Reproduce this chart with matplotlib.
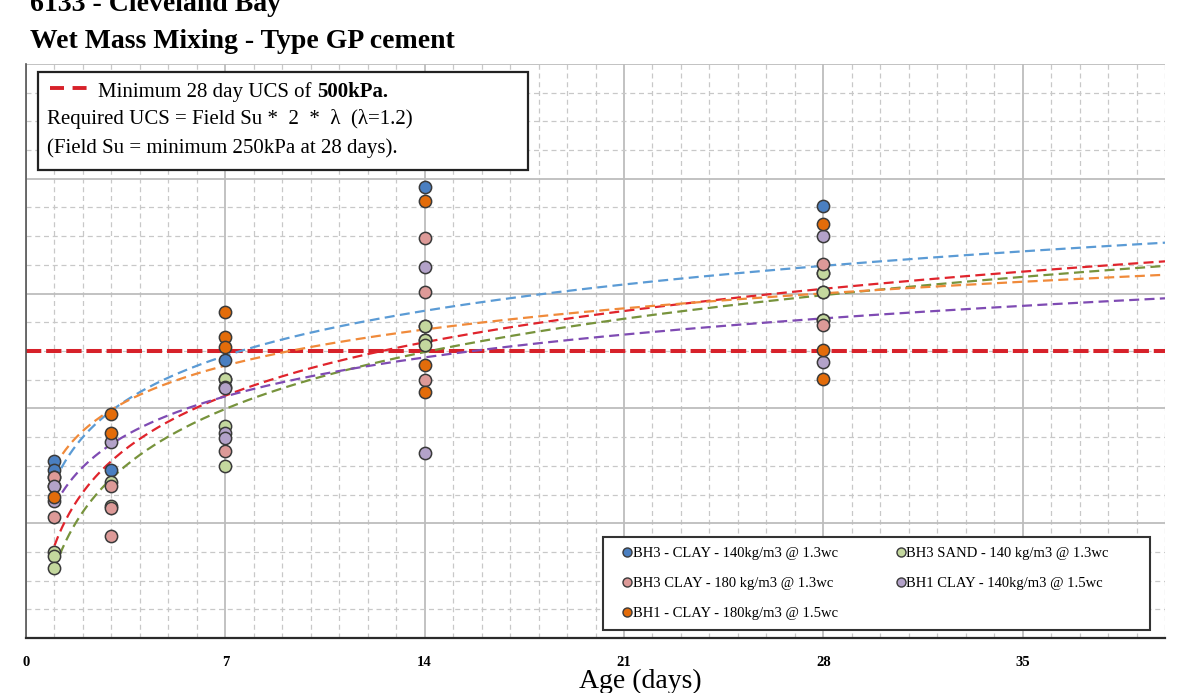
import numpy as np
import matplotlib
matplotlib.use("Agg")
import matplotlib.pyplot as plt
from matplotlib.lines import Line2D
from matplotlib.patches import Rectangle

plt.rcParams['font.family'] = ['Liberation Serif', 'DejaVu Serif']

# data (UCS in kPa vs age in days)
blue_days = [1, 1, 1, 1, 3, 7, 7, 14, 14, 14, 28, 28, 28, 28]
blue_ucs = [309, 292, 281, 265, 293, 484, 452, 786, 543, 519, 753, 636, 603, 554]
green_days = [1, 1, 1, 3, 3, 7, 7, 7, 14, 14, 14, 28, 28, 28]
green_ucs = [150, 143, 122, 271, 230, 452, 370, 299, 543, 519, 510, 636, 603, 554]
pink_days = [1, 1, 3, 3, 3, 7, 14, 14, 14, 28, 28]
pink_ucs = [281, 211, 264, 227, 178, 325, 697, 603, 449, 652, 545]
purple_days = [1, 1, 3, 7, 7, 7, 7, 14, 14, 28, 28]
purple_ucs = [265, 238, 341, 438, 435, 358, 349, 646, 323, 700, 480]
orange_days = [1, 3, 3, 7, 7, 7, 14, 14, 14, 28, 28, 28]
orange_ucs = [246, 390, 358, 568, 524, 507, 762, 475, 428, 721, 501, 451]

labels = ['BH3 - CLAY - 140kg/m3 @ 1.3wc', 'BH3 SAND - 140 kg/m3 @ 1.3wc',
          'BH3 CLAY - 180 kg/m3 @ 1.3wc', 'BH1 CLAY - 140kg/m3 @ 1.5wc',
          'BH1 - CLAY - 180kg/m3 @ 1.5wc']
min_ucs = 500
x_ticks = [0, 7, 14, 21, 28, 35]

series = [
    (blue_days, blue_ucs, '#4a7fc1', '#5b9bd5'),
    (green_days, green_ucs, '#c4d89e', '#77933c'),
    (pink_days, pink_ucs, '#dd9a98', '#e0242c'),
    (purple_days, purple_ucs, '#b3a2c9', '#7f4bb3'),
    (orange_days, orange_ucs, '#e36c0a', '#f08a3a'),
]

W, H = 1187, 693
fig = plt.figure(figsize=(W / 100, H / 100), dpi=100)
ax = fig.add_axes([26 / W, 1 - 638 / H, (1165 - 26) / W, (638 - 64) / H])

# grid
ax.set_xlim(0, 40)
ax.set_ylim(0, 1000)
ax.set_xticks(x_ticks)
ax.set_xticks(np.arange(0, 41, 1), minor=True)
ax.set_yticks(np.arange(0, 1001, 200))
ax.set_yticks(np.arange(0, 1001, 50), minor=True)
ax.grid(which='major', color='#bdbdbd', lw=1.3, ls='-', zorder=0)
ax.grid(which='minor', color='#c8c8c8', lw=0.9, ls=(0, (4, 3)), zorder=0)
ax.set_axisbelow(True)
ax.tick_params(which='both', length=0)
ax.tick_params(axis='x', pad=13)
ax.set_yticklabels([])
for lab in ax.get_xticklabels():
    lab.set_fontweight('bold')
    lab.set_fontsize(10.5)
for s in ['top', 'right']:
    ax.spines[s].set_visible(False)
ax.spines['bottom'].set_color('#2b2b2b')
ax.spines['bottom'].set_linewidth(1.6)
ax.spines['left'].set_color('#555555')
ax.spines['left'].set_linewidth(1.2)

# minimum UCS line
ax.axhline(min_ucs, color='#d7212a', lw=2.9, dashes=(3.8, 1.2), zorder=2)

# log trendlines fitted to each series, then points on top
xt = np.linspace(1, 40, 300)
for days, ucs, fc, tc in series:
    a, b = np.polyfit(np.log(days), ucs, 1)
    ax.plot(xt, a * np.log(xt) + b, color=tc, lw=1.6, dashes=(4.5, 2.4), zorder=3)
for days, ucs, fc, tc in series:
    ax.scatter(days, ucs, s=78, color=fc, edgecolor='#3a3a3a', linewidth=1.1, zorder=5)

# bottom legend (frame drawn separately)
ax.add_patch(Rectangle((603 / W, 1 - 630 / H), 547 / W, 93 / H, transform=fig.transFigure,
                       facecolor='white', edgecolor='#333333', lw=1.5, zorder=9, clip_on=False))
order = [0, 2, 4, 1, 3]
handles = [Line2D([], [], ls='none', marker='o', ms=6.5, markerfacecolor=series[i][2],
                  markeredgecolor='#3a3a3a', markeredgewidth=1.0, label=labels[i]) for i in order]
leg = ax.legend(handles=handles, loc='upper left', bbox_to_anchor=(603 / W, 1 - 537 / H),
                bbox_transform=fig.transFigure, ncol=2, fontsize=10.5, frameon=False,
                borderaxespad=0, handlelength=1.9, handletextpad=-0.55, labelspacing=1.15,
                columnspacing=3.35, borderpad=0.7)
leg.set_zorder(10)

# top-left note box
fig.add_artist(Rectangle((38 / W, 1 - 170 / H), 490 / W, 98 / H, transform=fig.transFigure,
                         facecolor='white', edgecolor='#222222', lw=1.6, zorder=5))
fig.add_artist(Line2D([50 / W, 87 / W], [1 - 88 / H, 1 - 88 / H], transform=fig.transFigure,
                      color='#d7212a', lw=2.8, dashes=(3.6, 2.2), zorder=6))
t1 = fig.text(98 / W, 1 - 97 / H, 'Minimum 28 day UCS of ', fontsize=15, va='baseline', zorder=6)
fig.canvas.draw()
bb = t1.get_window_extent()
fig.text(bb.x1 / W, 1 - 97 / H, '500kPa.', fontsize=15, fontweight='bold', va='baseline', zorder=6)
fig.text(47 / W, 1 - 124 / H, 'Required UCS = Field Su *  2  *  \u03bb  (\u03bb=1.2)', fontsize=15,
         va='baseline', zorder=6)
fig.text(47 / W, 1 - 153 / H, '(Field Su = minimum 250kPa at 28 days).', fontsize=15,
         va='baseline', zorder=6)

# titles and axis label
fig.text(30 / W, 1 - 11 / H, '6133 - Cleveland Bay', fontsize=20, fontweight='bold', va='baseline')
fig.text(30 / W, 1 - 48 / H, 'Wet Mass Mixing - Type GP cement', fontsize=20, fontweight='bold',
         va='baseline')
fig.text(640 / W, 1 - 688 / H, 'Age (days)', fontsize=20, ha='center', va='baseline')

fig.savefig('out.png', dpi=100)
